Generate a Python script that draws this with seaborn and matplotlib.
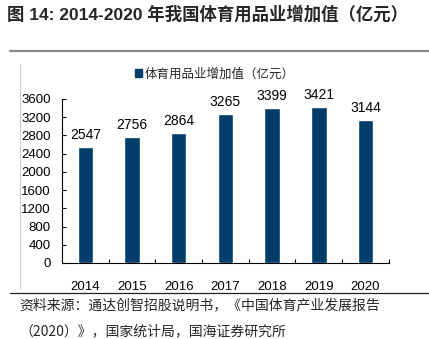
import matplotlib
matplotlib.use("Agg")
import matplotlib.pyplot as plt
import seaborn as sns
import pandas as pd
from matplotlib.patches import Patch
from matplotlib.lines import Line2D

years = ["2014", "2015", "2016", "2017", "2018", "2019", "2020"]
values = [2547, 2756, 2864, 3265, 3399, 3421, 3144]
series_name = "体育用品业增加值（亿元）"
yticks = [0, 400, 800, 1200, 1600, 2000, 2400, 2800, 3200, 3600]
title = "图 14: 2014-2020 年我国体育用品业增加值（亿元）"
source1 = "资料来源：通达创智招股说明书，《中国体育产业发展报告"
source2 = "（2020）》，国家统计局，国海证券研究所"

sns.set_theme(style="white")
plt.rcParams['font.family'] = ['Noto Sans CJK SC', 'DejaVu Sans']

bar_color = "#023D6A"
fig = plt.figure(figsize=(4.29, 3.39), dpi=100)
ax = fig.add_axes([0.1445, 0.2242, 0.762, 0.4838])

df = pd.DataFrame({"year": years, "value": values})
sns.barplot(data=df, x="year", y="value", color=bar_color, width=0.33, ax=ax, saturation=1)

ax.set_ylim(0, 3600)
ax.set_xlim(-0.5, len(years) - 0.5)
ax.set_yticks(yticks)
ax.set_xlabel("")
ax.set_ylabel("")
for s in ["top", "right"]:
    ax.spines[s].set_visible(False)
for s in ["left", "bottom"]:
    ax.spines[s].set_color("black")
    ax.spines[s].set_linewidth(0.8)

tick_font = ['Liberation Sans', 'DejaVu Sans']
ax.tick_params(axis="y", direction="in", length=3, width=0.8, left=True, labelsize=9.5, pad=8, colors="black")
ax.tick_params(axis="x", bottom=False, labelsize=9.5, pad=7, colors="black")
for lab in ax.get_yticklabels() + ax.get_xticklabels():
    lab.set_family(tick_font)
# category boundary ticks
ax.set_xticks([i - 0.5 for i in range(1, len(years) + 1)], minor=True)
ax.tick_params(axis="x", which="minor", direction="in", length=3, width=0.8, bottom=True, colors="black")

for i, v in enumerate(values):
    ax.text(i, v + 110, str(v), ha="center", va="bottom", fontsize=10,
            family=tick_font, color="black")

ax.legend(handles=[Patch(facecolor=bar_color, edgecolor=bar_color, label=series_name)],
          loc="center", bbox_to_anchor=(0.501, 0.782), bbox_transform=fig.transFigure,
          frameon=False, fontsize=9, handlelength=0.55, handleheight=0.55, handletextpad=0.2,
          borderpad=0, borderaxespad=0)

fig.text(0.016, 0.958, title, fontsize=12.5, fontweight="bold", ha="left", va="center",
         family=['Liberation Sans', 'Noto Sans CJK SC'])

fig.add_artist(Line2D([0.023, 1.0], [0.8496, 0.8496], transform=fig.transFigure, color="#8a8a8a", lw=1.6))
fig.add_artist(Line2D([0.0466, 0.0466], [0.147, 0.811], transform=fig.transFigure, color="#cfcfcf", lw=0.8))
fig.add_artist(Line2D([0.023, 1.0], [0.1357, 0.1357], transform=fig.transFigure, color="#222222", lw=0.9))

fig.text(0.045, 0.100, source1, fontsize=10, ha="left", va="center")
fig.text(0.045, 0.022, source2, fontsize=10, ha="left", va="center")

fig.savefig("out.png", dpi=100)
